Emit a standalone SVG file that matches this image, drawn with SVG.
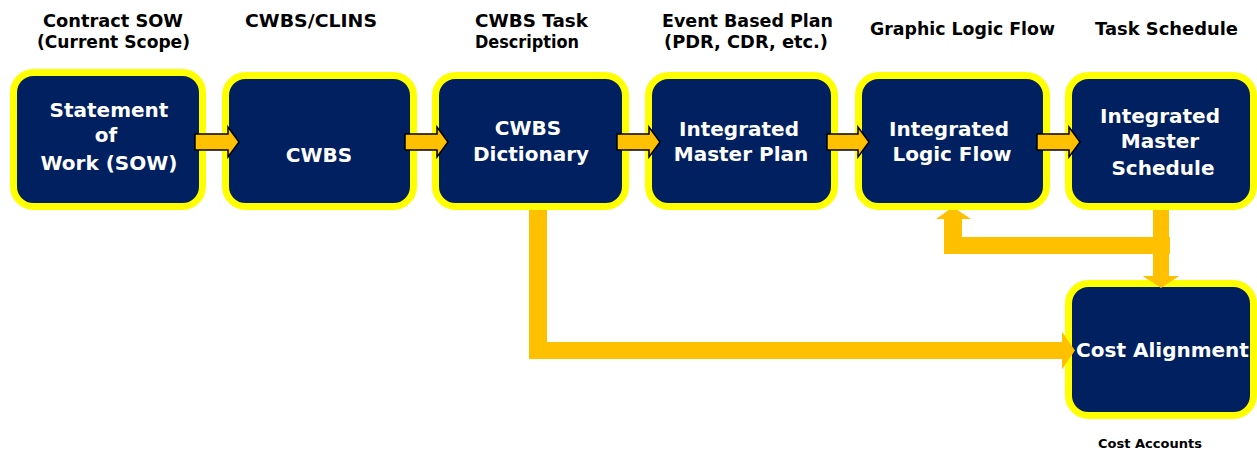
<svg xmlns="http://www.w3.org/2000/svg" width="1257" height="451" viewBox="0 0 1257 451">
<style>
.box{fill:#002060;stroke:#FFFF00;stroke-width:7}
.bt{font-family:"DejaVu Sans","Liberation Sans",sans-serif;font-weight:bold;font-size:20px;fill:#FFFFFF;text-anchor:middle}
.tt{font-family:"DejaVu Sans","Liberation Sans",sans-serif;font-weight:bold;font-size:18px;fill:#000000;text-anchor:middle}
.sa{fill:#FFC000;stroke:#000000;stroke-width:1.5;stroke-linejoin:miter}
.ca{fill:#FFC000;stroke:none}
</style>
<rect width="1257" height="451" fill="#FFFFFF"/>
<g id="titles">
<text class="tt" x="113" y="27" textLength="140" lengthAdjust="spacingAndGlyphs">Contract SOW</text>
<text class="tt" x="113.5" y="48" textLength="153" lengthAdjust="spacingAndGlyphs">(Current Scope)</text>
<text class="tt" x="311" y="27" textLength="132" lengthAdjust="spacingAndGlyphs">CWBS/CLINS</text>
<text class="tt" x="531.5" y="27" textLength="113" lengthAdjust="spacingAndGlyphs">CWBS Task</text>
<text class="tt" x="527" y="48" textLength="104" lengthAdjust="spacingAndGlyphs">Description</text>
<text class="tt" x="747.5" y="27" textLength="171" lengthAdjust="spacingAndGlyphs">Event Based Plan</text>
<text class="tt" x="746" y="48" textLength="164" lengthAdjust="spacingAndGlyphs">(PDR, CDR, etc.)</text>
<text class="tt" x="962.5" y="35" textLength="185" lengthAdjust="spacingAndGlyphs">Graphic Logic Flow</text>
<text class="tt" x="1166.5" y="35" textLength="143" lengthAdjust="spacingAndGlyphs">Task Schedule</text>
</g>
<g id="connectors">
<path class="ca" d="M529 205 H547 V342 H1062 V332 L1075 350.5 L1062 369 V359 H529 Z"/>
<rect class="ca" x="944" y="237" width="226" height="17"/>
<rect class="ca" x="944" y="219" width="18" height="35"/>
<polygon class="ca" points="936,219 971,219 953,207"/>
<rect class="ca" x="1153" y="207" width="16" height="69"/>
<polygon class="ca" points="1143,276 1179,276 1161,288"/>
</g>
<g id="sow">
<rect class="box" x="13.5" y="72.5" width="189" height="134" rx="20"/>
<text class="bt" x="109" y="117">Statement</text>
<text class="bt" x="106" y="142">of</text>
<text class="bt" x="109" y="170">Work (SOW)</text>
</g>
<g id="cwbs">
<rect class="box" x="225.5" y="75.5" width="188" height="131" rx="20"/>
<text class="bt" x="319" y="162">CWBS</text>
</g>
<g id="dictionary">
<rect class="box" x="435.5" y="75.5" width="190" height="131" rx="20"/>
<text class="bt" x="528" y="135">CWBS</text>
<text class="bt" x="531" y="161">Dictionary</text>
</g>
<g id="imp">
<rect class="box" x="648.5" y="75.5" width="186" height="131" rx="20"/>
<text class="bt" x="739" y="136">Integrated</text>
<text class="bt" x="741" y="161">Master Plan</text>
</g>
<g id="logic">
<rect class="box" x="858.5" y="75.5" width="188" height="131" rx="20"/>
<text class="bt" x="949" y="136">Integrated</text>
<text class="bt" x="952" y="161">Logic Flow</text>
</g>
<g id="ims">
<rect class="box" x="1068.5" y="75.5" width="185" height="131" rx="20"/>
<text class="bt" x="1160" y="123">Integrated</text>
<text class="bt" x="1160" y="148">Master</text>
<text class="bt" x="1163" y="175">Schedule</text>
</g>
<g id="cost">
<rect class="box" x="1068.5" y="283.5" width="185" height="132" rx="20"/>
<text class="bt" x="1162.5" y="357">Cost Alignment</text>
<text x="1150" y="448" font-family="DejaVu Sans, Liberation Sans, sans-serif" font-weight="bold" font-size="13" fill="#000000" text-anchor="middle">Cost Accounts</text>
</g>
<g id="flow-arrows">
<path class="sa" d="M195 134 H228 V127 L239 142 L228 157 V150 H195 Z"/>
<path class="sa" d="M405 134 H437 V127 L448 142 L437 157 V150 H405 Z"/>
<path class="sa" d="M617 134 H649 V127 L660 142 L649 157 V150 H617 Z"/>
<path class="sa" d="M827 134 H858 V127 L869 142 L858 157 V150 H827 Z"/>
<path class="sa" d="M1037 134 H1069 V127 L1080 142 L1069 157 V150 H1037 Z"/>
</g>
<g id="cost-arrow-tips">
<polygon class="ca" points="1062,332 1075,350.5 1062,369"/>
<polygon class="ca" points="1143,276 1179,276 1161,288"/>
</g>
</svg>
